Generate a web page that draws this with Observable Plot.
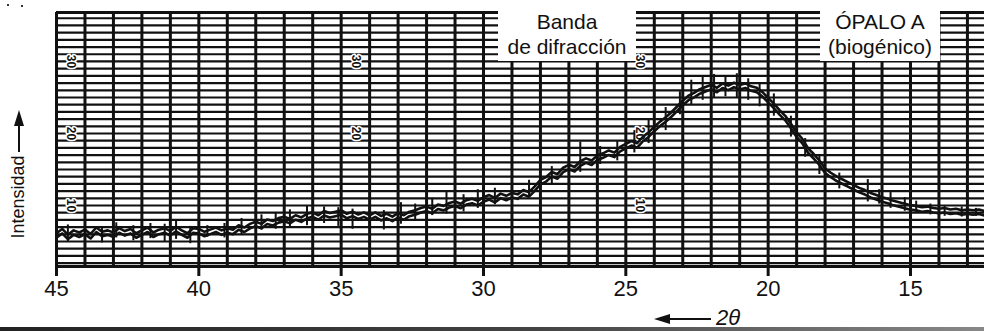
<!DOCTYPE html>
<html><head><meta charset="utf-8">
<script src="https://cdn.jsdelivr.net/npm/d3@7"></script>
<script src="https://cdn.jsdelivr.net/npm/@observablehq/plot@0.6"></script>
<style>
body{margin:0;background:#fff;}
#wrap{position:relative;width:984px;height:331px;overflow:hidden;font-family:"Liberation Sans",Arial,sans-serif;color:#111;}
.box{position:absolute;background:#fff;text-align:center;font-size:21px;line-height:25px;}
.lbl{position:absolute;font-size:22px;white-space:nowrap;}
</style></head><body><div id="wrap"></div>
<script>
// 2θ sample positions (degrees)
const twoTheta = [
45,44.8,44.6,44.4,44.2, 44,43.8,43.6,43.4,43.2, 43,42.8,42.6,42.4,42.2,
42,41.8,41.6,41.4,41.2, 41,40.8,40.6,40.4,40.2, 40,39.8,39.6,39.4,39.2,
39,38.8,38.6,38.4,38.2, 38,37.8,37.6,37.4,37.2, 37,36.8,36.6,36.4,36.2,
36,35.8,35.6,35.4,35.2, 35,34.8,34.6,34.4,34.2, 34,33.8,33.6,33.4,33.2,
33,32.8,32.6,32.4,32.2, 32,31.8,31.6,31.4,31.2, 31,30.8,30.6,30.4,30.2,
30,29.8,29.6,29.4,29.2, 29,28.8,28.6,28.4,28.2, 28,27.8,27.6,27.4,27.2,
27,26.8,26.6,26.4,26.2, 26,25.8,25.6,25.4,25.2, 25,24.8,24.6,24.4,24.2,
24,23.8,23.6,23.4,23.2, 23,22.8,22.6,22.4,22.2, 22,21.8,21.6,21.4,21.2,
21,20.8,20.6,20.4,20.2, 20,19.8,19.6,19.4,19.2, 19,18.8,18.6,18.4,18.2,
18,17.8,17.6,17.4,17.2, 17,16.8,16.6,16.4,16.2, 16,15.8,15.6,15.4,15.2,
15,14.8,14.6,14.4,14.2, 14,13.8,13.6,13.4,13.2, 13,12.8,12.6,12.4
];
// intensity
const intensity = [
5.8,6.4,5.6,6.2,5.9, 6.3,5.7,6.6,6.0,6.2, 5.9,6.5,6.1,6.4,5.8,
6.2,6.6,5.9,6.3,6.5, 6.1,6.7,6.2,5.8,6.5, 6.4,6.0,6.3,6.6,6.2,
6.5,6.3,6.9,6.6,7.1, 7.4,7.1,7.7,7.5,7.9, 8.1,7.8,8.3,8.0,8.5,
8.7,8.3,8.9,8.6,8.8, 9.0,8.5,8.8,8.4,8.7, 8.3,8.7,8.2,8.5,8.1,
8.6,8.3,8.8,9.0,9.3, 9.5,9.2,9.8,9.6,10.0, 10.2,9.9,10.4,10.6,10.3,
10.8,11.1,10.7,11.3,11.0, 11.4,11.2,11.8,11.5,12.3, 13.2,13.6,14.3,14.0,14.9,
15.3,15.0,15.8,16.2,15.9, 16.6,16.9,17.3,17.0,17.8, 18.2,18.6,18.3,19.2,19.8,
20.6,21.3,21.9,22.6,23.4, 24.2,24.9,25.3,25.8,26.1, 26.4,26.0,26.6,26.3,26.7,
26.4,26.6,26.2,26.0,25.4, 24.6,23.8,22.9,22.1,21.0, 19.8,18.9,17.6,16.8,15.9,
14.8,14.2,13.7,13.3,12.9, 12.5,12.1,11.8,11.4,11.1, 10.8,10.6,10.3,10.1,9.9,
9.7,9.6,9.4,9.5,9.3, 9.2,9.3,9.1,9.2,9.0, 9.1,9.0,9.1,8.9
];
// noise spikes on the trace
const spikeX  = [44.6,44.0,43.4,42.9,42.3,41.7,41.2,40.8,40.3,39.7,39.1,38.5,37.8,37.3,36.8,36.2,35.6,35.1,34.6,34.0,33.5,32.9,32.4,31.8,31.3,30.7,30.2,29.6,29.0,28.4,27.6,27.0,26.6,25.9,25.3,24.7,24.2,23.6,23.1,22.7,22.3,21.9,21.5,21.1,20.7,20.3,19.8,19.2,18.7,18.2,17.5,17.0,16.5,16.1,15.7,15.2,14.8,14.3,13.8,13.2,12.7];
const spikeLo = [5.0,5.2,4.8,5.5,5.1,5.4,5.0,5.3,4.7,5.6,5.5,5.9,6.6,6.7,7.0,7.2,7.5,7.1,6.7,7.0,6.6,7.4,7.9,8.6,8.8,9.1,9.6,10.1,10.2,11.2,12.9,14.2,14.6,15.7,16.2,17.3,18.6,20.4,22.6,24.0,24.6,25.0,25.1,24.9,24.6,23.7,22.4,19.5,16.7,14.3,12.3,11.4,10.5,10.2,9.6,9.2,8.9,8.7,8.5,8.4,8.5];
const spikeHi = [7.3,6.9,7.0,7.6,7.2,7.5,7.4,7.8,7.1,7.2,7.5,8.2,8.7,8.9,9.4,9.9,9.8,9.7,9.5,9.9,9.3,10.4,10.2,11.0,11.8,11.5,12.2,12.4,12.6,13.5,15.4,16.5,18.8,18.2,19.0,20.4,21.9,23.6,25.8,27.4,27.9,28.2,28.0,28.3,27.6,26.9,25.5,22.4,19.3,17.0,14.5,14.0,13.6,12.2,11.8,11.1,10.6,10.2,9.9,9.8,9.6];
// axis ticks & chart-paper labels
const xTicks = [45,40,35,30,25,20,15];
const paperT = [44.5, 44.5, 44.5, 34.5, 34.5, 24.5, 24.5, 24.5];
const paperV = [10, 20, 30, 20, 30, 10, 20, 30];

const xDomain = [45, 12.4];
const yDomain = [1.53, 36.8];

const trace = twoTheta.map((t, i) => ({t, v: intensity[i]}));
const spikes = spikeX.map((t, i) => ({t, lo: spikeLo[i], hi: spikeHi[i]}));
const paperLabels = paperT.map((t, i) => ({t, v: paperV[i], s: String(paperV[i])}));

const ink = "#111";
const chart = Plot.plot({
  width: 984, height: 331,
  marginLeft: 56, marginRight: 0, marginTop: 12, marginBottom: 65,
  x: {domain: xDomain},
  y: {domain: yDomain, axis: null},
  style: {fontFamily: "'Liberation Sans', Arial, sans-serif", fontSize: "22px", color: ink, background: "white", overflow: "visible"},
  marks: [
    Plot.gridY(d3.range(2, 37), {stroke: ink, strokeOpacity: 1, strokeWidth: 2.2}),
    Plot.gridX(d3.range(13, 46), {stroke: ink, strokeOpacity: 1, strokeWidth: 3}),
    Plot.ruleY(yDomain, {stroke: ink, strokeWidth: 3}),
    Plot.text(paperLabels, {x: "t", y: "v", text: "s", rotate: 90, fontSize: 12, fontWeight: "bold", fill: ink, stroke: "white", strokeWidth: 3}),
    Plot.ruleX(spikes, {x: "t", y1: "lo", y2: "hi", stroke: ink, strokeWidth: 2}),
    Plot.line(trace, {x: "t", y: "v", stroke: ink, strokeWidth: 2.6, dy: -2.5}),
    Plot.line(trace, {x: "t", y: "v", stroke: ink, strokeWidth: 2.6, dy: 2}),
    Plot.axisX({ticks: xTicks, tickSize: 10, tickPadding: 4, strokeWidth: 3, fontSize: 22, label: null, tickFormat: d => String(d)})
  ]
});
const wrap = document.getElementById("wrap");
chart.style.position = "absolute"; chart.style.left = "0"; chart.style.top = "0";
wrap.appendChild(chart);

function addDiv(cls, css, html) {
  const d = document.createElement("div");
  d.className = cls; d.style.cssText = css; d.innerHTML = html;
  wrap.appendChild(d); return d;
}
addDiv("box", "left:498px;top:8px;width:138px;height:52px;padding-top:1px;", "Banda<br>de difracción");
addDiv("box", "left:820px;top:8px;width:120px;height:52px;padding-top:1px;", "ÓPALO A<br>(biogénico)");
addDiv("lbl", "left:-42px;top:184px;width:120px;height:26px;line-height:26px;font-size:18px;text-align:center;transform:rotate(-90deg);", "Intensidad");
addDiv("lbl", "left:716px;top:305px;font-style:italic;line-height:26px;", "2θ");
addDiv("", "position:absolute;left:0;top:327px;width:984px;height:4px;background:linear-gradient(to right,#222,#444 55%,#888);", "");
addDiv("", "position:absolute;left:7px;top:4px;width:2px;height:2px;background:#333;", "");
addDiv("", "position:absolute;left:21px;top:5px;width:2px;height:2px;background:#333;", "");

const ns = "http://www.w3.org/2000/svg";
const ov = document.createElementNS(ns, "svg");
ov.setAttribute("width", 984); ov.setAttribute("height", 331);
ov.style.cssText = "position:absolute;left:0;top:0;pointer-events:none;";
ov.innerHTML = `
  <line x1="19" y1="152" x2="19" y2="124" stroke="${ink}" stroke-width="2"/>
  <polygon points="19,110 14,126 24,126" fill="${ink}"/>
  <line x1="711" y1="319" x2="668" y2="319" stroke="${ink}" stroke-width="2"/>
  <polygon points="654,319 670,314 670,324" fill="${ink}"/>`;
wrap.appendChild(ov);
</script></body></html>
